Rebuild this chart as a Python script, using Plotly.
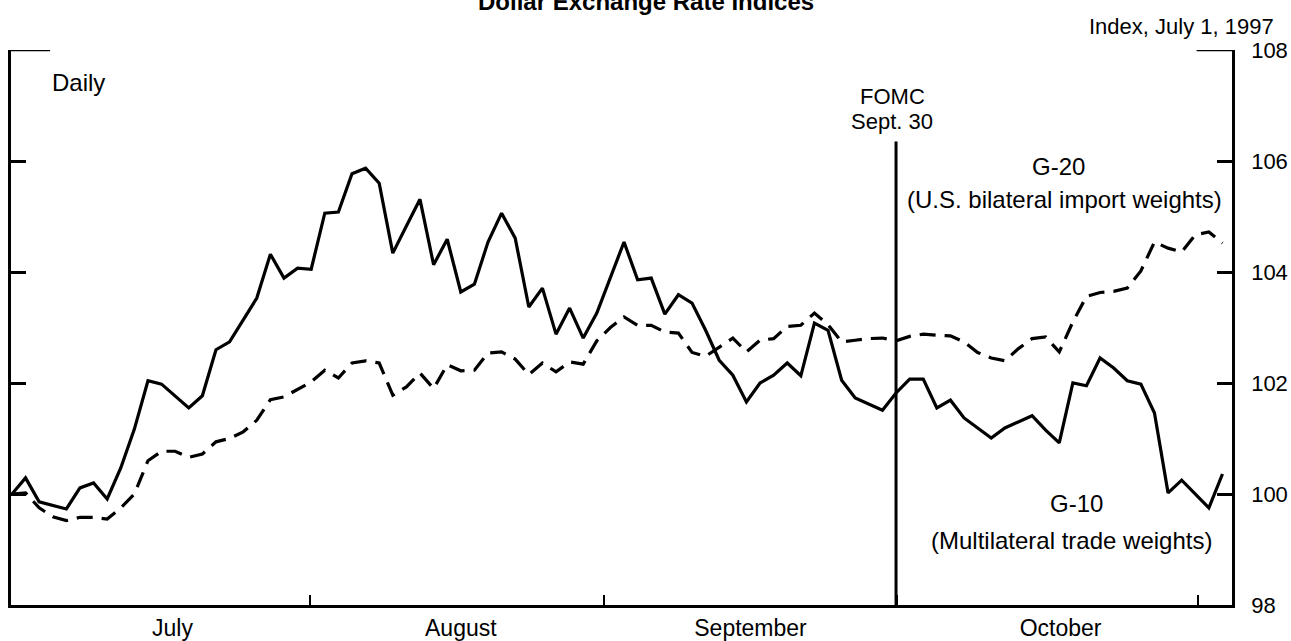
import plotly.graph_objects as go

# Business-day number counted from 1 July 1997 (day 0) to 3 November 1997 (day 89)
trading_day = list(range(90))

# G-10 index, multilateral trade weights (July 1, 1997 = 100)
g10 = [
    100.00, 100.29, 99.86, 99.80, 99.73, 100.11, 100.20, 99.91, 100.47, 101.17,
    102.04, 101.98, 101.77, 101.55, 101.77, 102.60, 102.74, 103.14, 103.53, 104.32,
    103.89, 104.07, 104.05, 105.06, 105.08, 105.77, 105.87, 105.60, 104.34, 104.83,
    105.31, 104.13, 104.59, 103.64, 103.78, 104.54, 105.06, 104.61, 103.37, 103.71,
    102.88, 103.35, 102.81, 103.26, 103.89, 104.54, 103.86, 103.89, 103.24, 103.59,
    103.44, 102.95, 102.41, 102.14, 101.66, 102.00, 102.14, 102.36, 102.13, 103.08,
    102.95, 102.05, 101.73, 101.62, 101.51, 101.82, 102.07, 102.07, 101.55, 101.69,
    101.37, 101.19, 101.01, 101.19, 101.30, 101.41, 101.15, 100.92, 102.00, 101.95,
    102.45, 102.27, 102.04, 101.98, 101.46, 100.02, 100.25, 100.00, 99.75, 100.36,
]

# G-20 index, U.S. bilateral import weights (July 1, 1997 = 100)
g20 = [
    100.00, 100.02, 99.75, 99.59, 99.52, 99.58, 99.58, 99.55, 99.75, 100.00,
    100.60, 100.77, 100.77, 100.66, 100.72, 100.94, 101.00, 101.12, 101.33, 101.70,
    101.75, 101.88, 102.02, 102.23, 102.09, 102.36, 102.40, 102.36, 101.78, 101.93,
    102.18, 101.90, 102.33, 102.22, 102.23, 102.54, 102.56, 102.43, 102.15, 102.36,
    102.20, 102.38, 102.34, 102.76, 103.00, 103.19, 103.04, 103.04, 102.92, 102.90,
    102.55, 102.48, 102.65, 102.81, 102.56, 102.77, 102.80, 103.02, 103.04, 103.26,
    103.05, 102.74, 102.77, 102.80, 102.81, 102.76, 102.84, 102.88, 102.86, 102.85,
    102.74, 102.55, 102.45, 102.40, 102.62, 102.80, 102.83, 102.56, 103.10, 103.56,
    103.63, 103.65, 103.71, 104.02, 104.54, 104.43, 104.36, 104.67, 104.72, 104.52,
]

fomc_day = 65  # Sept. 30 FOMC meeting

month_names = ["July", "August", "September", "October"]
month_label_pos = [11.8, 33.0, 54.3, 77.1]
month_bounds = [21.9, 43.5, 65.1, 87.2]
index_ticks = [98, 100, 102, 104, 106, 108]

FONT = "Liberation Sans, Arial, Helvetica, sans-serif"
INK = "black"

fig = go.Figure()
fig.add_trace(go.Scatter(
    x=trading_day, y=g10, mode="lines", name="G-10",
    line=dict(color=INK, width=3.2),
))
fig.add_trace(go.Scatter(
    x=trading_day, y=g20, mode="lines", name="G-20",
    line=dict(color=INK, width=3.2, dash="16px,9px"),
))

fig.update_layout(
    width=1291, height=641, autosize=False,
    margin=dict(l=11, r=59, t=50, b=36, autoexpand=False),
    paper_bgcolor="white", plot_bgcolor="white",
    showlegend=False,
    font=dict(family=FONT, size=24, color=INK),
)

fig.update_xaxes(
    range=[-0.07, 89.7], showgrid=False, zeroline=False, automargin=False,
    showline=True, linecolor=INK, linewidth=2.5,
    tickmode="array", tickvals=month_label_pos, ticktext=month_names,
    ticks="", ticklabelstandoff=1,
    tickfont=dict(family=FONT, size=23, color=INK),
    minor=dict(tickmode="array", tickvals=month_bounds, ticks="inside",
               ticklen=10, tickwidth=2, tickcolor=INK, showgrid=False),
)

fig.update_yaxes(
    range=[98, 108], side="right", mirror="ticks", automargin=False,
    showgrid=False, zeroline=False,
    showline=True, linecolor=INK, linewidth=2.5,
    tickmode="array", tickvals=index_ticks,
    ticks="inside", ticklen=15, tickwidth=2.5, tickcolor=INK,
    ticklabelstandoff=12,
    tickfont=dict(family=FONT, size=22, color=INK),
)

# Longer corner marks at the top of both vertical axes
fig.add_shape(type="line", xref="paper", yref="y", x0=0, x1=0.032, y0=108, y1=108,
              line=dict(color=INK, width=2.5))
fig.add_shape(type="line", xref="paper", yref="y", x0=0.971, x1=1, y0=108, y1=108,
              line=dict(color=INK, width=2.5))

# FOMC meeting marker
fig.add_shape(type="line", xref="x", yref="y", x0=fomc_day, x1=fomc_day, y0=98, y1=106.35,
              line=dict(color=INK, width=3))


def px_x(px):
    return (px - 11) / 1221


def px_y(py):
    return (605 - py) / 555


def label(text, x, y, xanchor="center", size=24, bold=False):
    fig.add_annotation(
        text=f"<b>{text}</b>" if bold else text,
        xref="paper", yref="paper", x=px_x(x), y=px_y(y),
        xanchor=xanchor, yanchor="middle", showarrow=False,
        font=dict(family=FONT, size=size, color=INK),
    )


label("Dollar Exchange Rate Indices", 646, 1, size=24, bold=True)
label("Index, July 1, 1997", 1276, 26, xanchor="right", size=22)
label("Daily", 50, 83, xanchor="left")
label("FOMC", 892, 96, size=22)
label("Sept. 30", 892, 121, size=22)
label("G-20", 1058, 167)
label("(U.S. bilateral import weights)", 1064, 199)
label("G-10", 1076, 503)
label("(Multilateral trade weights)", 1071, 540)

fig.write_html("out.html")
